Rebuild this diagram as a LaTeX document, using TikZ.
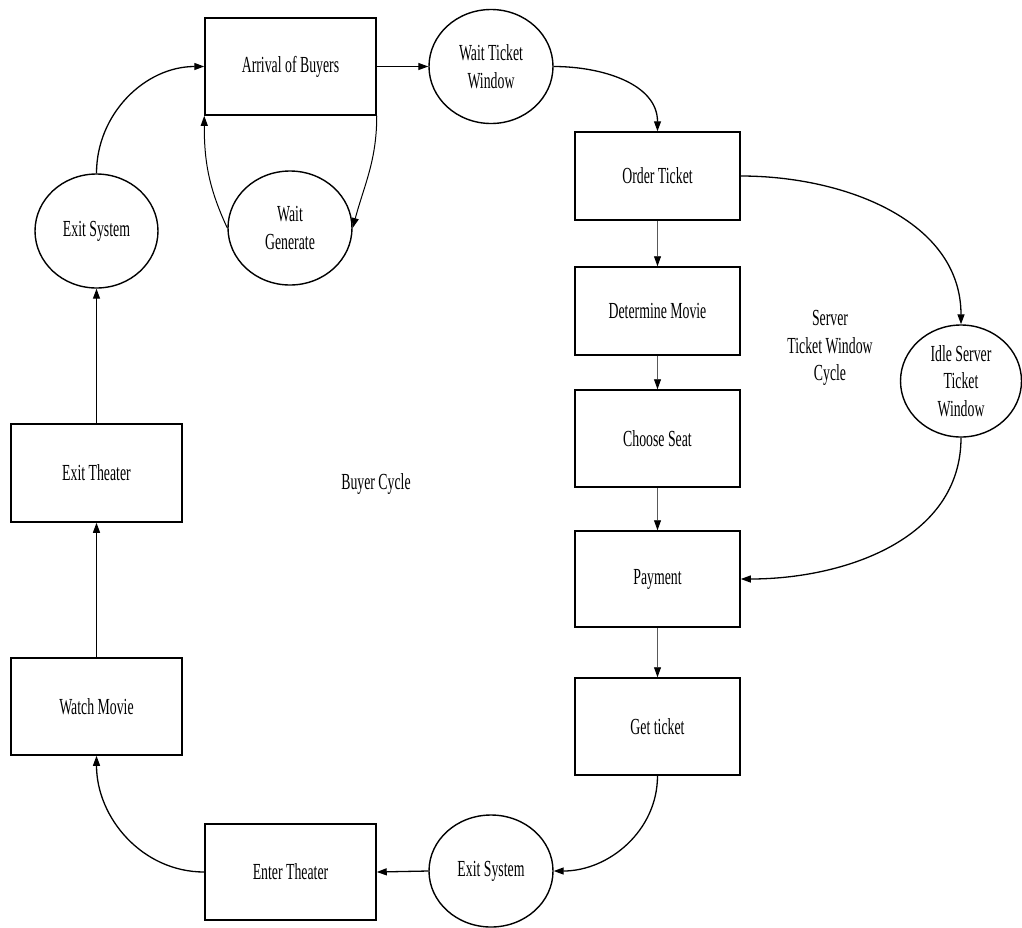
\documentclass[tikz,border=0pt]{standalone}
\usepackage{fontspec}
\setmainfont[FakeStretch=0.6]{Liberation Serif}
\usetikzlibrary{arrows.meta,shapes.geometric}
\begin{document}
\begin{tikzpicture}[x=1pt,y=-1pt,
  every node/.style={font=\fontsize{23}{27.5}\selectfont, align=center, inner sep=0pt},
  box/.style={draw, rectangle, line width=1.5pt},
  oval/.style={draw, ellipse, line width=1.4pt},
  link/.style={line width=1.3pt, -{Triangle[length=10pt,width=7pt]}},
  thin link/.style={line width=0.8pt, draw=gray!70!black, -{Triangle[length=10pt,width=7pt,color=black]}}
]
\useasboundingbox (0,0) rectangle (1022,927);

\node[box, minimum width=171pt, minimum height=97pt] (arr) at (290.5,66.5) {Arrival of Buyers};
\node[oval, minimum width=124pt, minimum height=114pt] (wtw) at (491,66.5) {Wait Ticket\\Window};
\node[oval, minimum width=124pt, minimum height=114pt] (wg) at (290,228) {Wait\\Generate};
\node[oval, minimum width=123pt, minimum height=114pt] (es1) at (96.5,231) {Exit System};

\node[box, minimum width=165pt, minimum height=88pt] (ot) at (657.5,176) {Order Ticket};
\node[box, minimum width=165pt, minimum height=88pt] (dm) at (657.5,311) {Determine Movie};
\node[box, minimum width=165pt, minimum height=97pt] (cs) at (657.5,438.5) {Choose Seat};
\node[box, minimum width=165pt, minimum height=96pt] (pay) at (657.5,579) {Payment};
\node[box, minimum width=165pt, minimum height=97pt] (gt) at (657.5,726.5) {Get ticket};

\node[oval, minimum width=121pt, minimum height=112pt] (isv) at (961,381) {Idle Server\\Ticket\\Window};
\node (srv) at (830,348) {Server\\Ticket Window\\Cycle};

\node[oval, minimum width=124pt, minimum height=112pt] (es2) at (491,871) {Exit System};
\node[box, minimum width=171pt, minimum height=96pt] (et) at (290.5,872) {Enter Theater};
\node[box, minimum width=171pt, minimum height=97pt] (wm) at (96.5,706.5) {Watch Movie};
\node[box, minimum width=171pt, minimum height=98pt] (ext) at (96.5,473) {Exit Theater};
\node (buy) at (376,484) {Buyer Cycle};

\draw[link] (arr.east) -- (wtw.west);
\draw[link] (wtw.east) to[out=0,in=90] (ot.north);
\draw[thin link] (ot.south) -- (dm.north);
\draw[thin link] (dm.south) -- (cs.north);
\draw[thin link] (cs.south) -- (pay.north);
\draw[thin link] (pay.south) -- (gt.north);
\draw[link] (ot.east) to[out=0,in=90] (isv.north);
\draw[link] (isv.south) to[out=-90,in=0] (pay.east);
\draw[link] (gt.south) to[out=-90,in=0] (es2.east);
\draw[link] (es2.west) -- (et.east);
\draw[link] (et.west) to[out=180,in=-90] (wm.south);
\draw[link] (wm.north) -- (ext.south);
\draw[link] (ext.north) -- (es1.south);
\draw[link] (es1.north) to[out=90,in=180] (arr.west);
\draw[link, line width=1pt] (wg.west) to[out=115,in=-90] (arr.south west);
\draw[link, line width=1pt] (arr.south east) to[out=-90,in=75] (wg.east);
\end{tikzpicture}
\end{document}
